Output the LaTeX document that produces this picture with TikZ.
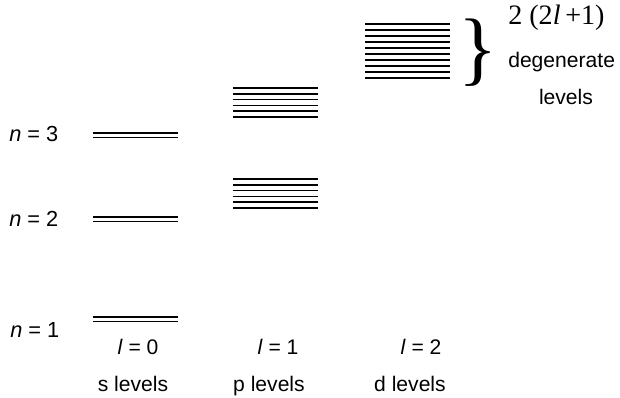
\documentclass[tikz,border=0pt]{standalone}
\usepackage{fontspec}
\setsansfont{Liberation Sans}
\newfontfamily\timesfont{Liberation Serif}
\begin{document}
\begin{tikzpicture}[
	x=0.025cm, y=-0.025cm,
	level/.style={ line width=1.25pt },
	qnum/.style={ font=\sffamily\fontsize{15.5}{18}\selectfont, inner sep=0pt },
	lname/.style={ font=\sffamily\fontsize{15}{18}\selectfont, inner sep=0pt, anchor=base }
]
\useasboundingbox (0,0) rectangle (620,398);

% principal quantum number
\node at (9,142) (n3) [qnum,anchor=base west] {\textit{n} = 3};
\node at (9,227) (n2) [qnum,anchor=base west] {\textit{n} = 2};
\node at (10,338) (n1) [qnum,anchor=base west] {\textit{n} = 1};

% s levels, two states each
\foreach \y in {133,217,317} {
	\draw[level] (93,\y) -- (178,\y);
	\draw[level] (93,\y+4.5) -- (178,\y+4.5);
}

% p levels, six states each
\foreach \y in {88,179} {
	\foreach \k in {0,...,5} \draw[level] (233,\y+5.8*\k) -- (318,\y+5.8*\k);
}

% d levels, ten states
\foreach \k in {0,...,9} \draw[level] (365,24+6*\k) -- (450,24+6*\k);

% brace and degeneracy
\node at (478,53) (brace) [font=\timesfont\fontsize{58}{58}\selectfont, inner sep=0pt] {\}};
\node at (508,25) (mult) [font=\timesfont\fontsize{20}{24}\selectfont, inner sep=0pt, anchor=base west] {2 (2\textit{l}\,+1)};
\node at (508,68) (deg) [lname,anchor=base west] {degenerate};
\node at (566,105) (lev) [lname] {levels};

% orbital quantum number
\node at (138,355) (l0) [lname] {\textit{l} = 0};
\node at (278,355) (l1) [lname] {\textit{l} = 1};
\node at (421,355) (l2) [lname] {\textit{l} = 2};
\node at (133,392) (slev) [lname] {s levels};
\node at (269,392) (plev) [lname] {p levels};
\node at (410,392) (dlev) [lname] {d levels};

\end{tikzpicture}
\end{document}
